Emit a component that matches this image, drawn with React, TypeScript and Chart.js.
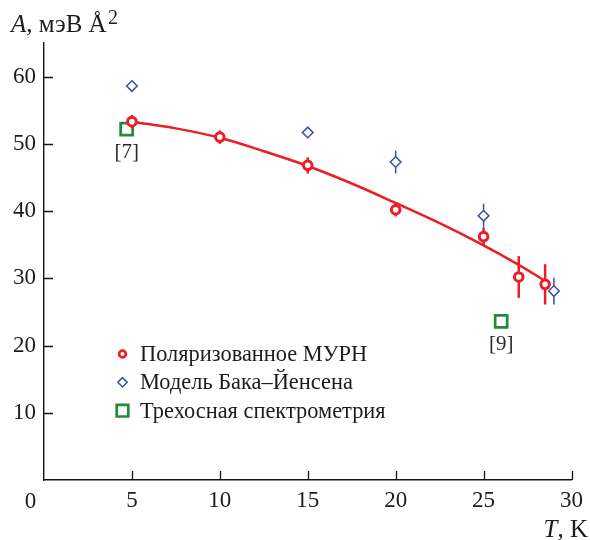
import { useEffect, useRef } from 'react';
import { Chart, registerables } from 'chart.js';

Chart.register(...registerables);

const FONT = '"Liberation Serif", "Times New Roman", serif';

const RED = 'rgb(236, 30, 36)';
const BLUE = 'rgb(58, 78, 168)';
const GREEN = 'rgb(34, 138, 58)';
const AXIS = '#151515';
const TEXT = '#1c1c1c';

// Polarized SANS: temperature (K), stiffness A (meV Å^2), error
const murnT = [5, 10, 15, 20, 25, 27, 28.5];
const murnA = [53.3, 51.0, 46.8, 40.2, 36.2, 30.2, 29.1];
const murnErr = [1.0, 1.0, 1.2, 1.0, 1.3, 3.1, 3.0];

// Bak–Jensen model
const bakT = [5, 15, 20, 25, 29];
const bakA = [58.6, 51.7, 47.3, 39.3, 28.1];
const bakErr = [0, 0, 1.7, 1.8, 2.0];

// Triple-axis spectrometry, with literature references
const tasT = [4.7, 26.0];
const tasA = [52.2, 23.6];
const tasRefs = ['[7]', '[9]'];

// Fitted curve through the SANS points
const fitT = [5, 7.5, 10, 12.5, 15, 17.5, 20, 22.5, 25, 27, 28.5];
const fitA = [53.3, 52.3, 50.9, 48.9, 46.7, 44.1, 41.2, 38.2, 34.9, 32.0, 29.6];

const xTicks = [5, 10, 15, 20, 25, 30];
const yTicks = [10, 20, 30, 40, 50, 60];
const originLabel = '0';

const legendLabels = ['Поляризованное МУРН', 'Модель Бака–Йенсена', 'Трехосная спектрометрия'];

const toPoints = (xs: number[], ys: number[]) => xs.map((x, i) => ({ x, y: ys[i] }));

function drawMarker(ctx: CanvasRenderingContext2D, kind: string, x: number, y: number, r: number) {
  ctx.beginPath();
  if (kind === 'circle') {
    ctx.arc(x, y, r, 0, Math.PI * 2);
  } else if (kind === 'diamond') {
    ctx.moveTo(x, y - r);
    ctx.lineTo(x + r, y);
    ctx.lineTo(x, y + r);
    ctx.lineTo(x - r, y);
    ctx.closePath();
  } else {
    ctx.rect(x - r, y - r, 2 * r, 2 * r);
  }
  ctx.fillStyle = '#fff';
  ctx.fill();
  ctx.stroke();
}

const errorBars = {
  id: 'errorBars',
  beforeDatasetsDraw(chart: any) {
    const { ctx } = chart;
    const xs = chart.scales.x;
    const ys = chart.scales.y;
    chart.data.datasets.forEach((ds: any) => {
      if (!ds.errors) return;
      ctx.save();
      ctx.strokeStyle = ds.borderColor;
      ctx.lineWidth = ds.errorWidth;
      ds.data.forEach((p: any, j: number) => {
        const e = ds.errors[j];
        if (!e) return;
        const px = xs.getPixelForValue(p.x);
        ctx.beginPath();
        ctx.moveTo(px, ys.getPixelForValue(p.y - e));
        ctx.lineTo(px, ys.getPixelForValue(p.y + e));
        ctx.stroke();
      });
      ctx.restore();
    });
  },
};

const innerTicks = {
  id: 'innerTicks',
  beforeDatasetsDraw(chart: any) {
    const { ctx, chartArea } = chart;
    const xs = chart.scales.x;
    const ys = chart.scales.y;
    ctx.save();
    ctx.strokeStyle = AXIS;
    ctx.lineWidth = 1.3;
    ctx.beginPath();
    yTicks.forEach((v) => {
      const py = Math.round(ys.getPixelForValue(v)) + 0.5;
      ctx.moveTo(chartArea.left, py);
      ctx.lineTo(chartArea.left + 9, py);
    });
    xTicks.forEach((v) => {
      const px = Math.round(xs.getPixelForValue(v)) + 0.5;
      ctx.moveTo(px, chartArea.bottom);
      ctx.lineTo(px, chartArea.bottom - 9);
    });
    ctx.stroke();
    ctx.restore();
  },
};

const annotations = {
  id: 'annotations',
  afterDraw(chart: any) {
    const { ctx, chartArea } = chart;
    const xs = chart.scales.x;
    const ys = chart.scales.y;
    ctx.save();
    ctx.fillStyle = TEXT;
    ctx.textBaseline = 'alphabetic';

    // y-axis title: A, мэВ Å²
    let tx = 11;
    const ty = 32;
    ctx.textAlign = 'left';
    ctx.font = `italic 25px ${FONT}`;
    ctx.fillText('A', tx, ty);
    tx += ctx.measureText('A').width;
    ctx.font = `25px ${FONT}`;
    const unit = ', мэВ Å';
    ctx.fillText(unit, tx, ty);
    tx += ctx.measureText(unit).width;
    ctx.font = `20px ${FONT}`;
    ctx.fillText('2', tx + 1.5, ty - 8);

    // x-axis title: T, K (right aligned)
    ctx.font = `25px ${FONT}`;
    const kPart = ', K';
    const kW = ctx.measureText(kPart).width;
    const right = 588;
    ctx.fillText(kPart, right - kW, 537);
    ctx.font = `italic 25px ${FONT}`;
    const tW = ctx.measureText('T').width;
    ctx.fillText('T', right - kW - tW, 537);

    // origin label
    ctx.font = `23px ${FONT}`;
    ctx.textAlign = 'center';
    ctx.fillText(originLabel, chartArea.left - 13.5, 508);

    // reference labels under the triple-axis points
    ctx.font = `21px ${FONT}`;
    ctx.fillStyle = '#2a2a2a';
    tasT.forEach((t, i) => {
      ctx.fillText(tasRefs[i], xs.getPixelForValue(t), ys.getPixelForValue(tasA[i]) + 29);
    });

    // legend
    const lx = 122.5;
    const textX = 140;
    const rowY = [354, 382.3, 410.7];
    ctx.font = `22.4px ${FONT}`;
    ctx.textAlign = 'left';
    ctx.textBaseline = 'middle';
    chart.data.datasets.forEach((ds: any) => {
      if (ds.legendIndex === undefined) return;
      const k = ds.legendIndex;
      ctx.strokeStyle = ds.borderColor;
      ctx.lineWidth = ds.legendLineWidth;
      drawMarker(ctx, ds.legendMarker, lx, rowY[k], ds.legendSize);
      ctx.fillStyle = TEXT;
      ctx.fillText(legendLabels[k], textX, rowY[k] + 1);
    });
    ctx.restore();
  },
};

export default function App() {
  const canvasRef = useRef<HTMLCanvasElement | null>(null);

  useEffect(() => {
    const canvas = canvasRef.current;
    if (!canvas) return;
    const chart = new Chart(canvas, {
      type: 'scatter',
      data: {
        datasets: [
          {
            label: legendLabels[0],
            data: toPoints(murnT, murnA),
            borderColor: RED,
            backgroundColor: '#fff',
            pointStyle: 'circle',
            pointRadius: 4.3,
            pointBorderWidth: 3,
            showLine: false,
            errors: murnErr,
            errorWidth: 2.5,
            legendIndex: 0,
            legendMarker: 'circle',
            legendSize: 3.4,
            legendLineWidth: 2.7,
          } as any,
          {
            label: legendLabels[1],
            data: toPoints(bakT, bakA),
            borderColor: BLUE,
            backgroundColor: '#fff',
            pointStyle: 'rectRot',
            pointRadius: 5.3,
            pointBorderWidth: 1.5,
            showLine: false,
            errors: bakErr,
            errorWidth: 1.5,
            legendIndex: 1,
            legendMarker: 'diamond',
            legendSize: 4.7,
            legendLineWidth: 1.5,
          } as any,
          {
            label: legendLabels[2],
            data: toPoints(tasT, tasA),
            borderColor: GREEN,
            backgroundColor: 'rgba(255,255,255,0)',
            pointStyle: 'rect',
            pointRadius: 8.5,
            pointBorderWidth: 2.7,
            showLine: false,
            legendIndex: 2,
            legendMarker: 'square',
            legendSize: 5.8,
            legendLineWidth: 2.7,
          } as any,
          {
            label: 'fit',
            data: toPoints(fitT, fitA),
            borderColor: RED,
            borderWidth: 2.5,
            pointRadius: 0,
            showLine: true,
            fill: false,
            tension: 0.4,
          } as any,
        ],
      },
      options: {
        animation: false,
        responsive: false,
        devicePixelRatio: 1,
        layout: { padding: { top: 43, right: 14.5, left: 0, bottom: 0 } },
        plugins: {
          legend: { display: false },
          tooltip: { enabled: false },
        },
        scales: {
          x: {
            type: 'linear',
            position: 'bottom',
            min: 0,
            max: 30,
            afterFit: (s: any) => {
              s.height = 60;
            },
            afterBuildTicks: (s: any) => {
              s.ticks = xTicks.map((value) => ({ value }));
            },
            grid: { display: false, drawTicks: false },
            border: { color: AXIS, width: 1.4 },
            ticks: {
              color: TEXT,
              font: { family: FONT, size: 23 },
              padding: 7,
              maxRotation: 0,
              autoSkip: false,
            },
          },
          y: {
            type: 'linear',
            min: 0,
            max: 65,
            afterFit: (s: any) => {
              s.width = 44;
            },
            afterBuildTicks: (s: any) => {
              s.ticks = yTicks.map((value) => ({ value }));
            },
            grid: { display: false, drawTicks: false },
            border: { color: AXIS, width: 1.4 },
            ticks: {
              color: TEXT,
              font: { family: FONT, size: 23 },
              padding: 8,
              autoSkip: false,
            },
          },
        },
      },
      plugins: [errorBars, innerTicks, annotations],
    });
    return () => chart.destroy();
  }, []);

  return (
    <div style={{ position: 'absolute', left: 0, top: 0, width: 590, height: 540, background: '#fff' }}>
      <canvas ref={canvasRef} width={590} height={540} style={{ display: 'block' }} />
    </div>
  );
}
